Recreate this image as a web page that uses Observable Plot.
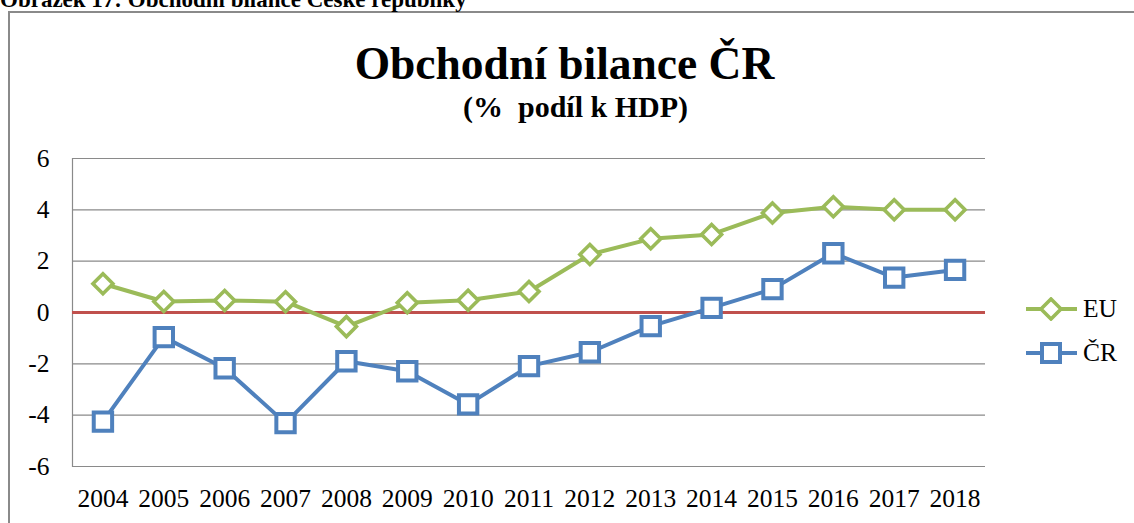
<!DOCTYPE html>
<html><head><meta charset="utf-8">
<script src="https://cdn.jsdelivr.net/npm/d3@7"></script>
<script src="https://cdn.jsdelivr.net/npm/@observablehq/plot@0.6"></script>
<style>
html,body{margin:0;padding:0;}
body{width:1134px;height:523px;overflow:hidden;position:relative;background:#fff;font-family:"Liberation Serif","Times New Roman",serif;color:#000;}
#caption{position:absolute;left:0;top:-12px;font-size:23px;font-weight:bold;white-space:nowrap;line-height:1;}
#frame{position:absolute;left:8px;top:11px;width:1200px;height:700px;border-left:2px solid #8a8a8a;border-top:2px solid #8a8a8a;}
#title{position:absolute;left:0;width:1129px;text-align:center;top:41px;font-size:45.5px;font-weight:bold;line-height:1;white-space:nowrap;}
#subtitle{position:absolute;left:0;width:1151px;text-align:center;top:92px;font-size:30px;font-weight:bold;line-height:1;white-space:pre;}
#chart{position:absolute;left:0;top:140px;}
.leg{position:absolute;left:1026px;font-size:25.5px;line-height:1;display:flex;align-items:center;}
.leg svg{display:block;margin-right:6px;}
</style>
</head><body>
<div id="frame"></div>
<div id="caption">Obrázek 17: Obchodní bilance České republiky</div>
<div id="title">Obchodní bilance ČR</div>
<div id="subtitle">(%  podíl k HDP)</div>
<div id="chart"></div>
<div class="leg" id="legEU" style="top:296px"></div>
<div class="leg" id="legCR" style="top:340px"></div>
<script>
const years = ["2004","2005","2006","2007","2008","2009","2010","2011","2012","2013","2014","2015","2016","2017","2018"];
const euValues = [1.12, 0.43, 0.47, 0.42, -0.55, 0.38, 0.48, 0.82, 2.26, 2.87, 3.04, 3.88, 4.12, 4.0, 4.0];
const crValues = [-4.25, -0.96, -2.17, -4.31, -1.9, -2.29, -3.58, -2.09, -1.55, -0.53, 0.18, 0.91, 2.31, 1.36, 1.66];
const yTicks = [-6, -4, -2, 0, 2, 4, 6];
const seriesNames = ["EU", "ČR"];
const colors = {EU: "#9BBB59", "ČR": "#4F81BD", zero: "#C0504D", grid: "#8a8a8a"};

const eu = years.map((y, i) => ({year: y, value: euValues[i]}));
const cr = years.map((y, i) => ({year: y, value: crValues[i]}));

const chart = Plot.plot({
  width: 1134,
  height: 383,
  marginTop: 18,
  marginBottom: 57,
  marginLeft: 72,
  marginRight: 149,
  style: {fontFamily: '"Liberation Serif","Times New Roman",serif', fontSize: "25.5px", color: "#000", background: "transparent"},
  x: {type: "point", domain: years, padding: 0.5, round: false, label: null},
  y: {domain: [-6, 6], label: null},
  marks: [
    Plot.ruleY(yTicks.filter(d => d !== 0), {stroke: colors.grid, strokeWidth: 1.2}),
    Plot.frame({anchor: "left", stroke: colors.grid, strokeWidth: 1.2}),
    Plot.ruleY([0], {stroke: colors.zero, strokeWidth: 3}),
    Plot.axisX({tickSize: 0, tickPadding: 22, fontSize: 25.5, label: null}),
    Plot.axisY({ticks: yTicks, tickSize: 0, tickPadding: 23, fontSize: 25.5, label: null, tickFormat: d => String(d)}),
    Plot.line(eu, {x: "year", y: "value", stroke: colors.EU, strokeWidth: 4}),
    Plot.line(cr, {x: "year", y: "value", stroke: colors["ČR"], strokeWidth: 4}),
    Plot.dot(eu, {x: "year", y: "value", symbol: "diamond2", r: 9, stroke: colors.EU, fill: "white", strokeWidth: 3.6}),
    Plot.dot(cr, {x: "year", y: "value", symbol: "square2", r: 11.7, stroke: colors["ČR"], fill: "white", strokeWidth: 4})
  ]
});
document.getElementById("chart").appendChild(chart);

function legendItem(el, name, shape) {
  const c = colors[name];
  const marker = shape === "diamond"
    ? `<path d="M25,2 L35,12 L25,22 L15,12 Z" fill="white" stroke="${c}" stroke-width="3.6"/>`
    : `<rect x="16" y="3" width="18" height="18" fill="white" stroke="${c}" stroke-width="4"/>`;
  el.innerHTML = `<svg width="51" height="24"><line x1="0" x2="51" y1="12" y2="12" stroke="${c}" stroke-width="4"/>${marker}</svg><span>${name}</span>`;
}
legendItem(document.getElementById("legEU"), seriesNames[0], "diamond");
legendItem(document.getElementById("legCR"), seriesNames[1], "square");
</script>
</body></html>
